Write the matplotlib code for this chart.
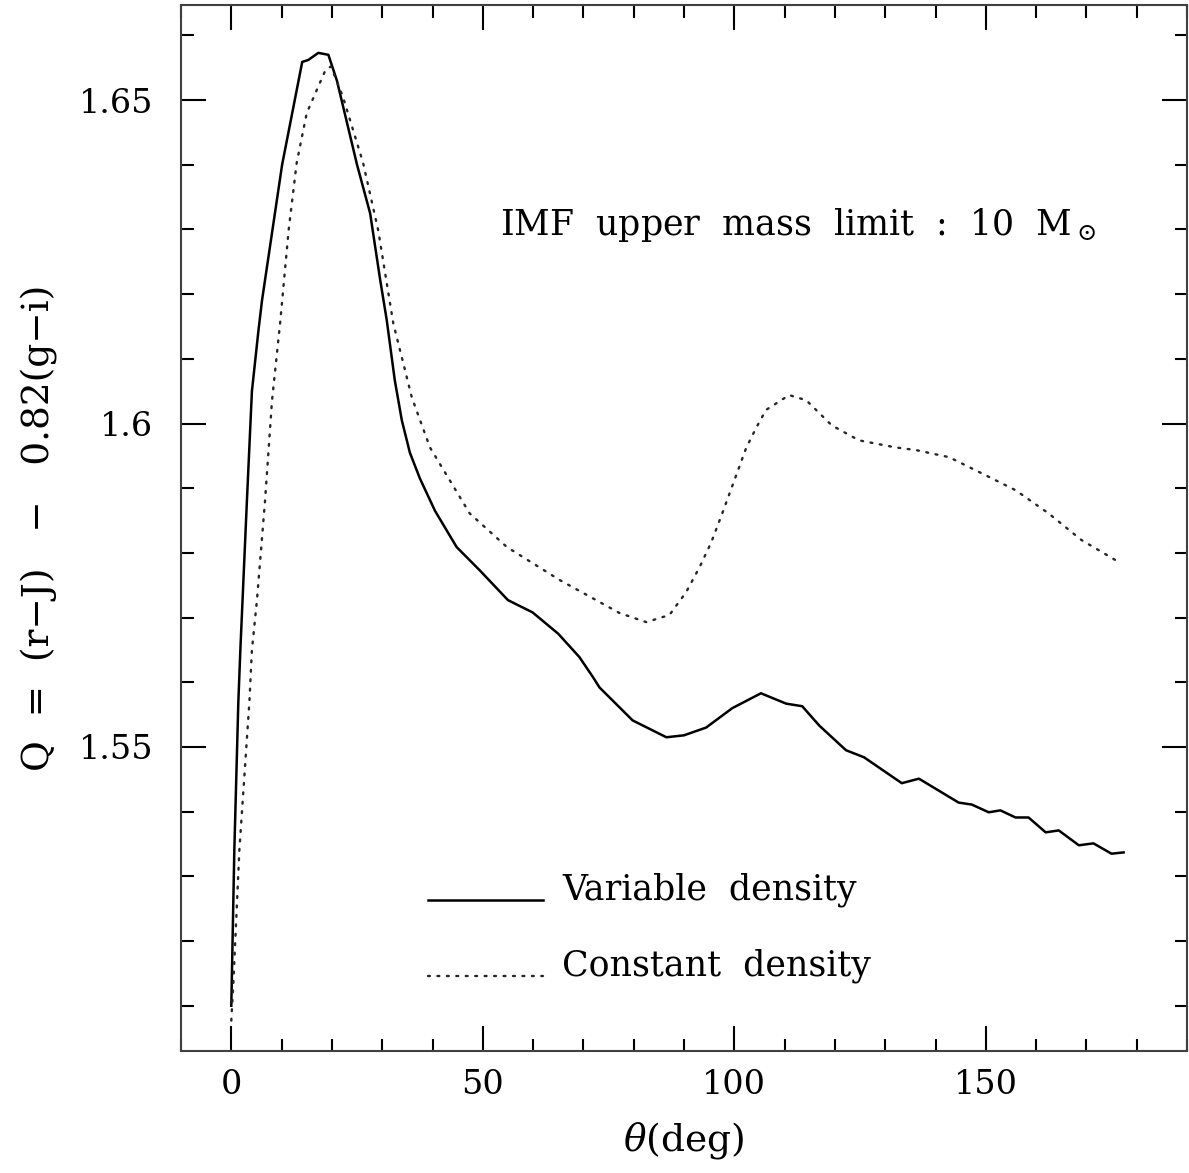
import matplotlib
matplotlib.use("Agg")
import matplotlib.pyplot as plt
from matplotlib.ticker import MultipleLocator, FixedLocator

# ---- data ----
theta_var = [0, 0.6, 1.4, 1.8, 3.1, 4.1, 5.4, 6.1, 10.1, 14.1, 15.3, 17.3, 19.3, 21,
             25, 27.6, 29.6, 30.9, 32.5, 33.9, 35.5, 37.5, 40.5, 44.8, 49.4, 55, 59.9, 65,
             69.2, 71.9, 73.2, 79.8, 86.5, 90, 94.4, 99.6, 105.3, 110.3, 113.5, 116.9,
             122.2, 125.8, 133.3, 136.7, 144.6, 147.2, 150.6, 152.9, 155.9, 158.5, 161.9,
             164.5, 168.5, 171.4, 175, 177.4]
q_var = [1.510, 1.534, 1.557, 1.565, 1.588, 1.605, 1.6144, 1.619, 1.640, 1.6559, 1.6562,
         1.6573, 1.657, 1.653, 1.640, 1.6325, 1.6222, 1.616, 1.6067, 1.6005, 1.5955,
         1.5915, 1.5865, 1.5809, 1.5773, 1.5727, 1.5708, 1.5675, 1.5639, 1.5608, 1.5592,
         1.5541, 1.5515, 1.5518, 1.553, 1.556, 1.5583, 1.5567, 1.5563, 1.5533, 1.5495,
         1.5484, 1.5444, 1.5451, 1.5414, 1.5411, 1.5399, 1.5402, 1.5391, 1.5391, 1.5368,
         1.5371, 1.5348, 1.5351, 1.5335, 1.5337]

theta_const = [0, 0.4, 1.6, 3.6, 4.1, 5.1, 6.7, 8.1, 9.7, 11.4, 13, 15, 18.7, 19.8, 22.2,
               26.2, 29.2, 32.2, 35.9, 39.5, 47.4, 54.8, 65.3, 77.2, 82.5, 87.1, 90.4, 93.1,
               95.4, 97.6, 100, 102.4, 104.4, 106.3, 110.9, 114.3, 119.4, 124.8, 132.1,
               136.1, 142.7, 149.2, 155.9, 162.5, 169, 176.4]
q_const = [1.5077, 1.5134, 1.534, 1.557, 1.565, 1.5727, 1.588, 1.6036, 1.6155, 1.6299,
           1.6403, 1.648, 1.6546, 1.6552, 1.6505, 1.6403, 1.6299, 1.6155, 1.604, 1.5963,
           1.5861, 1.5809, 1.5758, 1.5707, 1.5693, 1.5704, 1.5739, 1.5778, 1.5816, 1.5861,
           1.5912, 1.5963, 1.5994, 1.6021, 1.6044, 1.6036, 1.5997, 1.5974, 1.5963, 1.5959,
           1.5948, 1.5923, 1.5897, 1.5861, 1.582, 1.5786]

x_ticks = [0, 50, 100, 150]
y_ticks = [1.55, 1.6, 1.65]
y_ticklabels = ["1.55", "1.6", "1.65"]
label_var = "Variable  density"
label_const = "Constant  density"
annotation = r"IMF  upper  mass  limit  :  10  M$_\odot$"

# ---- style ----
plt.rcParams["font.family"] = ["DejaVu Serif"]
plt.rcParams["mathtext.fontset"] = "dejavuserif"

fig = plt.figure(figsize=(11.89, 11.73), dpi=100)
ax = fig.add_axes([181 / 1189, 1 - 1051 / 1173, 1006 / 1189, 1046 / 1173])

ax.plot(theta_var, q_var, color="black", lw=1.8, solid_joinstyle="round")
ax.plot(theta_const, q_const, color="0.15", lw=1.7, linestyle=(0, (0.8, 3.2)),
        dash_capstyle="round")

ax.set_xlim(-10, 190)
ax.set_ylim(1.503, 1.6647)

ax.xaxis.set_major_locator(FixedLocator(x_ticks))
ax.xaxis.set_minor_locator(MultipleLocator(10))
ax.yaxis.set_major_locator(FixedLocator(y_ticks))
ax.set_yticklabels(y_ticklabels)
ax.yaxis.set_minor_locator(MultipleLocator(0.01))

ax.tick_params(which="both", direction="in", top=True, right=True, width=1.5,
               colors="black", labelsize=24)
ax.tick_params(which="major", length=18)
ax.tick_params(which="minor", length=9)
ax.tick_params(axis="x", which="major", pad=13)
ax.tick_params(axis="y", which="major", pad=20)
for s in ax.spines.values():
    s.set_linewidth(1.5)
    s.set_color("0.25")

ax.set_xlabel(r"$\theta$(deg)", fontsize=27)
ax.set_ylabel("Q  =  (r\u2212J)   \u2212   0.82(g\u2212i)", fontsize=27)
ax.xaxis.set_label_coords(0.5, -0.066)
ax.yaxis.set_label_coords(-0.122, 0.5)

ax.text(0.317, 0.780, annotation, transform=ax.transAxes, fontsize=25,
        ha="left", va="baseline")

# legend drawn manually
ax.plot([0.2455, 0.3598], [0.1444, 0.1444], transform=ax.transAxes, color="black", lw=1.8)
ax.plot([0.2455, 0.3598], [0.0718, 0.0718], transform=ax.transAxes, color="0.15", lw=1.7,
        linestyle=(0, (0.8, 3.2)), dash_capstyle="round")
ax.text(0.3787, 0.1444, label_var, transform=ax.transAxes, fontsize=25,
        ha="left", va="baseline")
ax.text(0.3787, 0.0718, label_const, transform=ax.transAxes, fontsize=25,
        ha="left", va="baseline")

fig.savefig("out.png", dpi=100)
